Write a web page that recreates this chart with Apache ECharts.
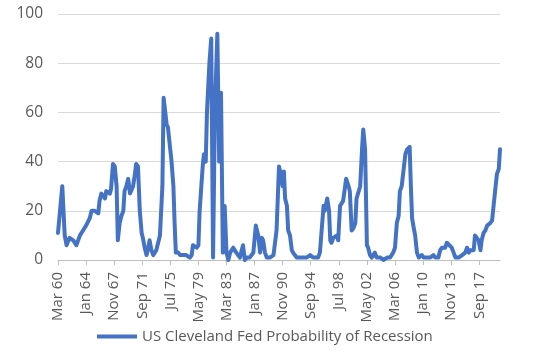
<!DOCTYPE html>
<html>
<head>
<meta charset="utf-8">
<script src="https://cdn.jsdelivr.net/npm/echarts@6/dist/echarts.min.js"></script>
<style>
  html, body { margin: 0; padding: 0; background: #fff; }
  #chart { width: 548px; height: 351px; }
</style>
</head>
<body>
<div id="chart"></div>
<script>
// months since Mar 1960 and the recession probability (%) read at that month
const monthIdx = [0,7,11,14,19,25,30,33,36,41,46,52,55,60,66,68,71,77,79,85,87,90,93,96,98,101,104,107,109,112,115,118,123,126,128,131,134,137,139,142,145,148,150,153,156,161,167,171,173,178,180,186,189,191,193,197,200,205,210,216,219,221,224,227,230,232,237,239,242,244,248,251,254,257,261,264,267,270,273,276,279,282,287,292,298,303,306,309,314,320,324,328,331,334,336,339,342,347,353,358,362,365,368,370,372,375,377,380,383,385,391,396,402,407,413,418,426,429,435,437,441,444,446,448,451,457,459,462,467,472,476,478,481,484,487,489,495,498,500,503,506,508,511,514,519,522,528,533,539,544,549,552,555,558,560,563,566,569,572,576,578,580,582,585,588,591,596,599,604,610,615,618,621,623,626,629,634,637,640,645,648,651,656,662,667,670,673,675,681,683,686,689,692,694,697,700,703,705,708,711,714,716,719,722,724];
const prob = [11,30,10,6,9,8,6,8,10,12,14,17,20,20,19,24,27,25,28,27,29,39,38,30,8,15,18,20,28,30,33,27,30,35,39,38,20,11,9,5,2,5,8,4,2,4,10,30,66,55,54,40,30,15,3,3,2,2,2,1,2,6,6,5,6,20,38,43,40,60,80,90,1,60,92,40,68,3,22,3,0,3,5,3,1,6,0,1,1,3,14,10,3,9,8,3,1,1,2,12,38,35,30,36,25,22,12,10,4,3,1,1,1,1,2,1,1,3,22,20,25,20,8,7,9,10,8,22,24,33,30,28,12,13,15,25,30,45,53,45,6,5,2,1,3,1,1,0,1,1,3,5,15,18,28,30,30,43,45,46,30,17,14,10,3,1,2,1,1,1,2,1,1,1,4,5,5,7,7,5,3,1,1,2,3,5,3,4,4,10,10,8,4,8,11,12,14,14,15,16,16,28,35,37,45];

const monthNames = ['Jan','Feb','Mar','Apr','May','Jun','Jul','Aug','Sep','Oct','Nov','Dec'];
const startYear = 1960, startMonth = 2, monthCount = 725;
const categories = [];
for (let i = 0; i < monthCount; i++) {
  const m = startMonth + i;
  const y = startYear + Math.floor(m / 12);
  categories.push(monthNames[m % 12] + ' ' + String(y % 100).padStart(2, '0'));
}

const seriesName = 'US Cleveland Fed Probability of Recession';
const textColor = '#595959';
const font = '"Open Sans", "Noto Sans", sans-serif';

const chart = echarts.init(document.getElementById('chart'), null, { renderer: 'canvas' });
chart.setOption({
  animation: false,
  grid: { left: 58, right: 48, top: 14, bottom: 91 },
  legend: {
    data: [seriesName],
    left: 92,
    bottom: 2,
    icon: 'rect',
    itemWidth: 40,
    itemHeight: 4,
    itemGap: 4,
    textStyle: { color: textColor, fontSize: 15, fontFamily: font }
  },
  xAxis: {
    type: 'category',
    data: categories,
    boundaryGap: false,
    axisLine: { lineStyle: { color: '#bfbfbf', width: 1 } },
    axisTick: { interval: 45, length: 5, lineStyle: { color: '#bfbfbf' } },
    axisLabel: { interval: 45, rotate: 90, margin: 12, color: textColor, fontSize: 15, fontFamily: font },
    splitLine: { show: false }
  },
  yAxis: {
    type: 'value',
    min: 0,
    max: 100,
    interval: 20,
    axisLine: { show: false },
    axisTick: { show: false },
    axisLabel: { color: textColor, fontSize: 15.5, fontFamily: font, margin: 15 },
    splitLine: { lineStyle: { color: '#d9d9d9', width: 1 } }
  },
  series: [{
    name: seriesName,
    type: 'line',
    data: monthIdx.map((m, i) => [m, prob[i]]),
    showSymbol: false,
    lineStyle: { color: '#4472c4', width: 4, join: 'round', cap: 'round' },
    itemStyle: { color: '#4472c4' }
  }]
});
</script>
</body>
</html>
